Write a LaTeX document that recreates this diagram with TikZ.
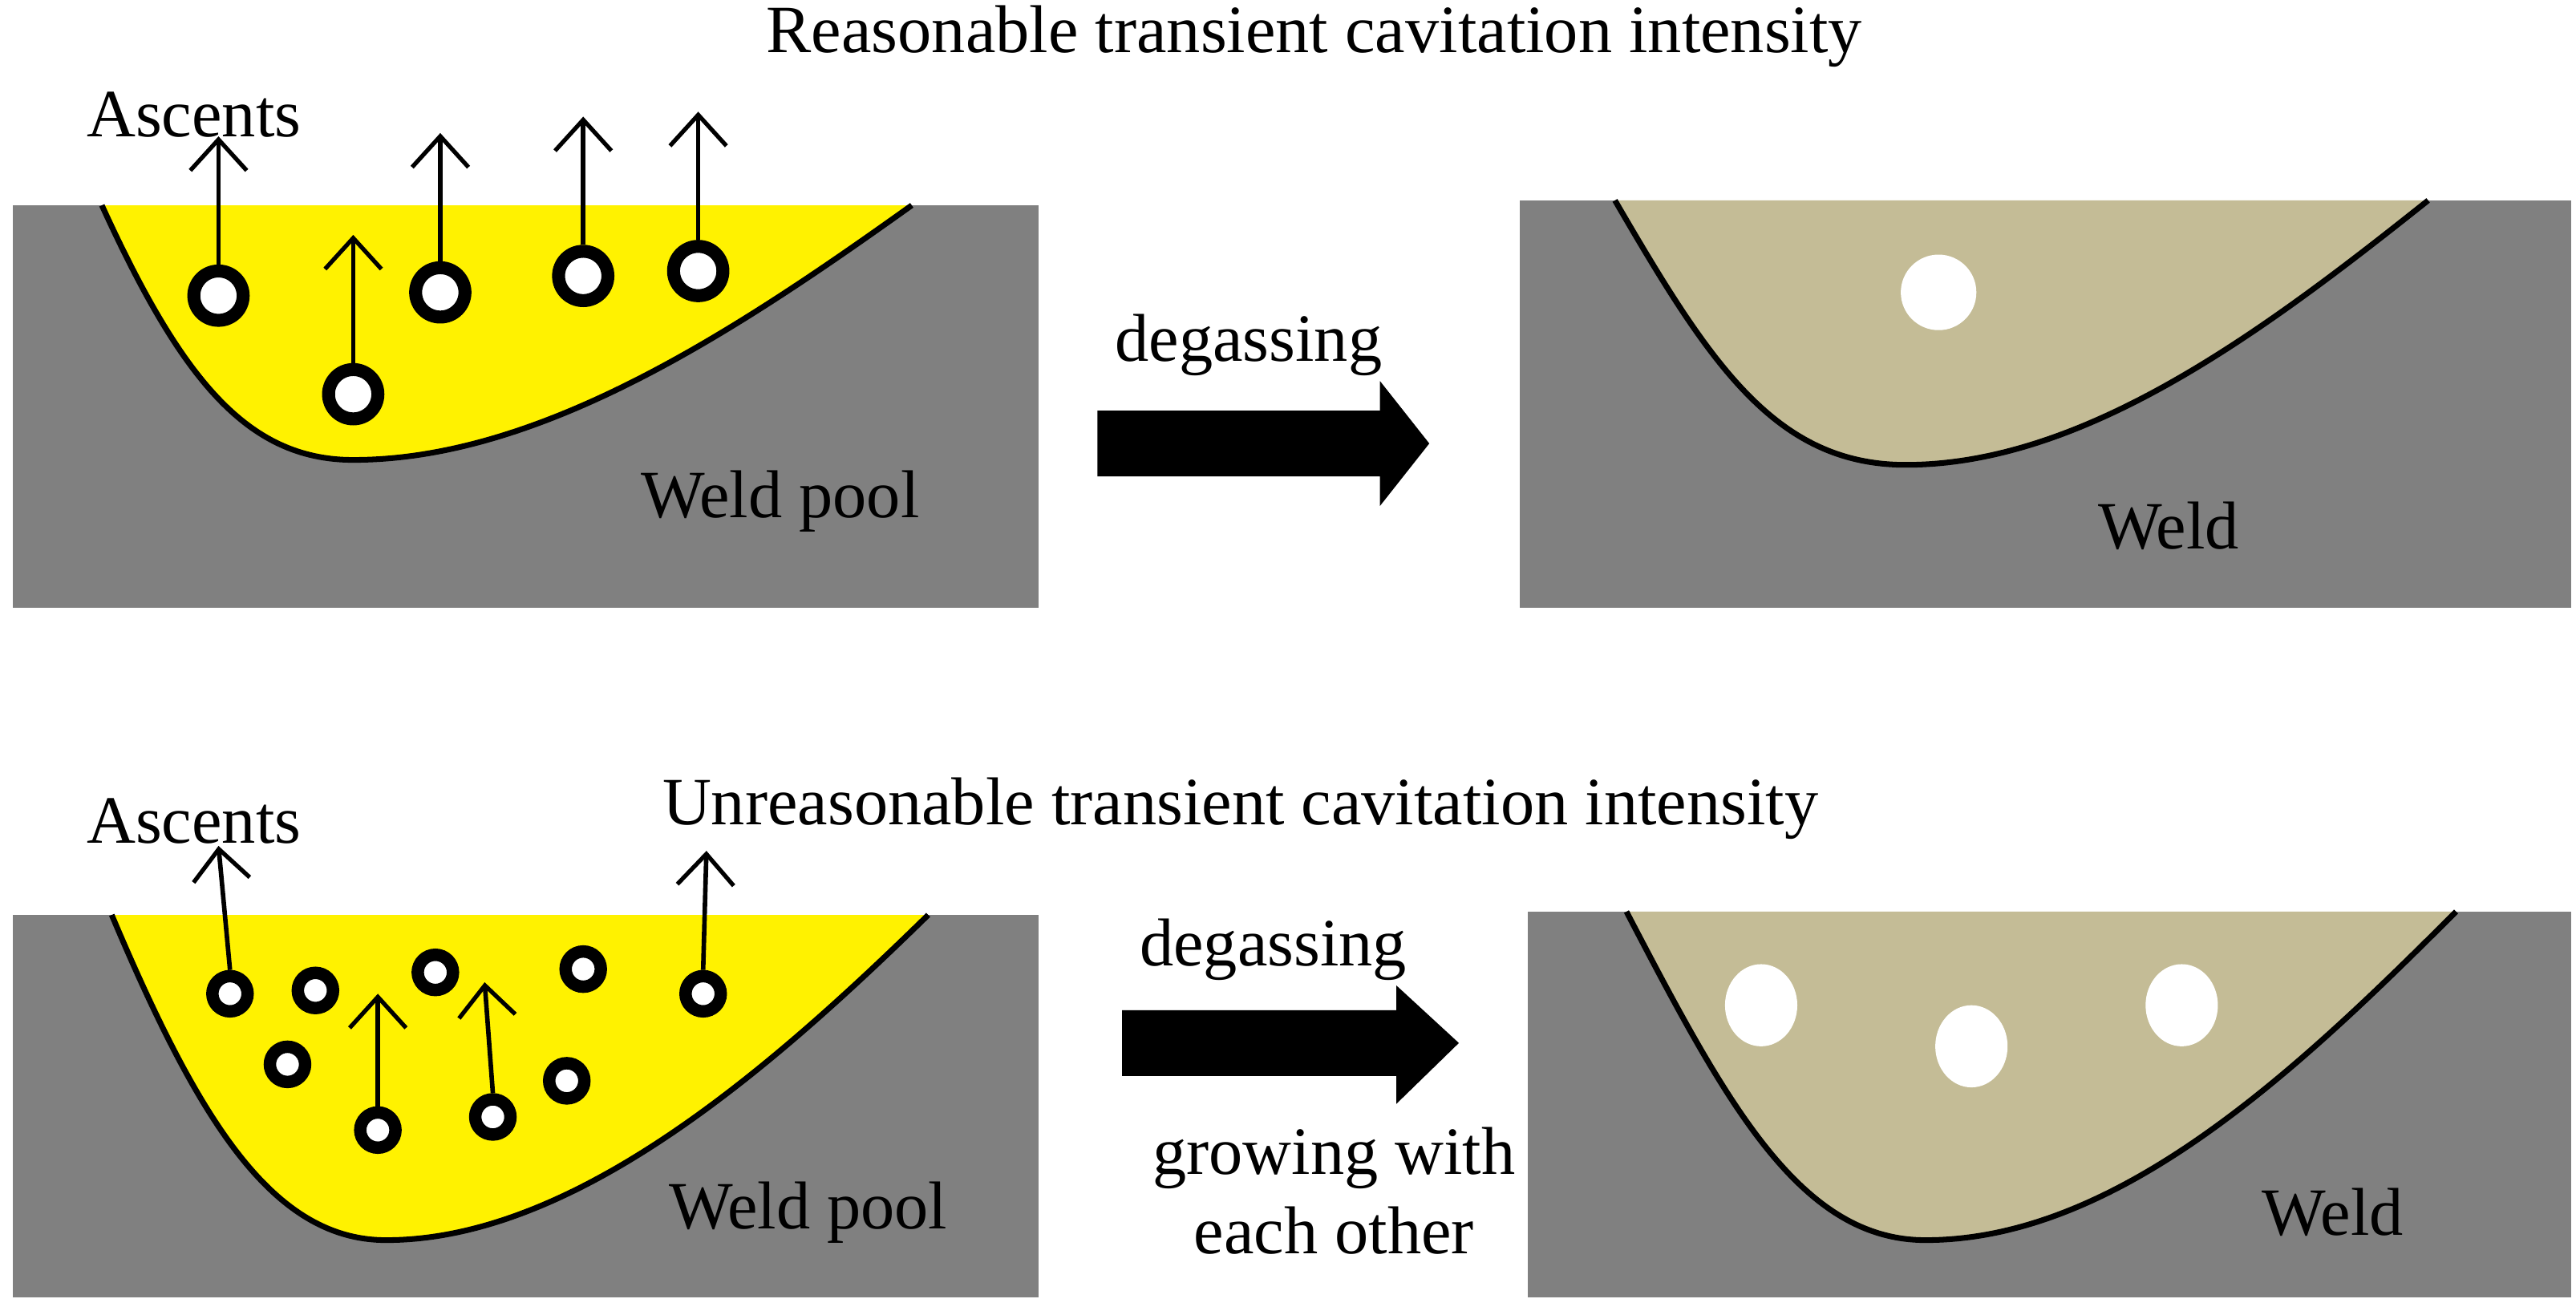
\documentclass[tikz,border=0pt]{standalone}
\usepackage{fontspec}
\setmainfont{Liberation Serif}
\begin{document}
\begin{tikzpicture}[x=0.02048cm,y=-0.02048cm,
 lab/.style={font=\fontsize{24}{28}\selectfont,inner sep=0pt},
 bub/.style={circle,draw=black,fill=white,line width=#1,inner sep=0pt},
 up/.style={-{Straight Barb[length=11pt,width=20pt,line width=1.5pt]},line width=1.6pt}]
\definecolor{gray50}{HTML}{808080}
\definecolor{beige}{HTML}{C4BC96}
\usetikzlibrary{arrows.meta}
\useasboundingbox (0,0) rectangle (1568,798);
% titles
\node[lab] (t1) at (800,22) {Reasonable transient cavitation intensity};
\node[lab] (t2) at (755,492) {Unreasonable transient cavitation intensity};
% top left
\fill[gray50] (8,125) rectangle (632,370);
\fill[yellow] (62,125) .. controls (110,230) and (150,280) .. (215,280) .. controls (330,280) and (450,200) .. (555,125) -- cycle;
\draw[line width=2pt] (62,125) .. controls (110,230) and (150,280) .. (215,280) .. controls (330,280) and (450,200) .. (555,125);
\node[lab] (a1) at (118,70) {Ascents};
\node[lab] (wp1) at (475,305) {Weld pool};
\foreach \x/\y [count=\i] in {133/180,215/240,268/178,355/168,425/165}{
 \node[bub=4.6pt,minimum size=17.5pt] (b\i) at (\x,\y) {};
 \coordinate (e\i) at (\x,\y-97);
 \draw[up] (b\i.north) -- (e\i);}
% top arrow
\fill (668,250) -- (840,250) -- (840,232) -- (870,270) -- (840,308) -- (840,290) -- (668,290) -- cycle;
\node[lab] (d1) at (760,210) {degassing};
% top right
\fill[gray50] (925,122) rectangle (1565,370);
\fill[beige] (983,122) .. controls (1040,220) and (1080,283) .. (1160,283) .. controls (1270,283) and (1380,200) .. (1478,122) -- cycle;
\draw[line width=2pt] (983,122) .. controls (1040,220) and (1080,283) .. (1160,283) .. controls (1270,283) and (1380,200) .. (1478,122);
\fill[white] (1180,178) circle (23);
\node[lab] (w1) at (1320,320) {Weld};
% bottom left
\fill[gray50] (8,557) rectangle (632,790);
\fill[yellow] (68,557) .. controls (120,680) and (165,755) .. (235,755) .. controls (350,755) and (470,650) .. (565,557) -- cycle;
\draw[line width=2pt] (68,557) .. controls (120,680) and (165,755) .. (235,755) .. controls (350,755) and (470,650) .. (565,557);
\node[lab] (a2) at (118,500) {Ascents};
\node[lab] (wp2) at (492,738) {Weld pool};
\foreach \x/\y [count=\i] in {140/605,192/603,265/592,355/590,428/605,175/648,230/688,300/680,345/658}{
 \node[bub=4.4pt,minimum size=12.5pt] (c\i) at (\x,\y) {};}
\coordinate (f1) at (133,515); \coordinate (f5) at (430,518);
\coordinate (f7) at (230,605); \coordinate (f8) at (295,598);
\draw[up] (c1.north) -- (f1);
\draw[up] (c5.north) -- (f5);
\draw[up] (c7.north) -- (f7);
\draw[up] (c8.north) -- (f8);
% bottom arrow
\fill (683,615) -- (850,615) -- (850,600) -- (888,635) -- (850,672) -- (850,655) -- (683,655) -- cycle;
\node[lab] (d2) at (775,578) {degassing};
\node[lab,align=center] (g) at (812,725) {growing with\\each other};
% bottom right
\fill[gray50] (930,555) rectangle (1565,790);
\fill[beige] (990,555) .. controls (1050,670) and (1095,755) .. (1172,755) .. controls (1290,755) and (1400,650) .. (1495,555) -- cycle;
\draw[line width=2pt] (990,555) .. controls (1050,670) and (1095,755) .. (1172,755) .. controls (1290,755) and (1400,650) .. (1495,555);
\foreach \x/\y in {1072/612,1200/637,1328/612}{\fill[white] (\x,\y) ellipse (22 and 25);}
\node[lab] (w2) at (1420,738) {Weld};
\end{tikzpicture}
\end{document}
